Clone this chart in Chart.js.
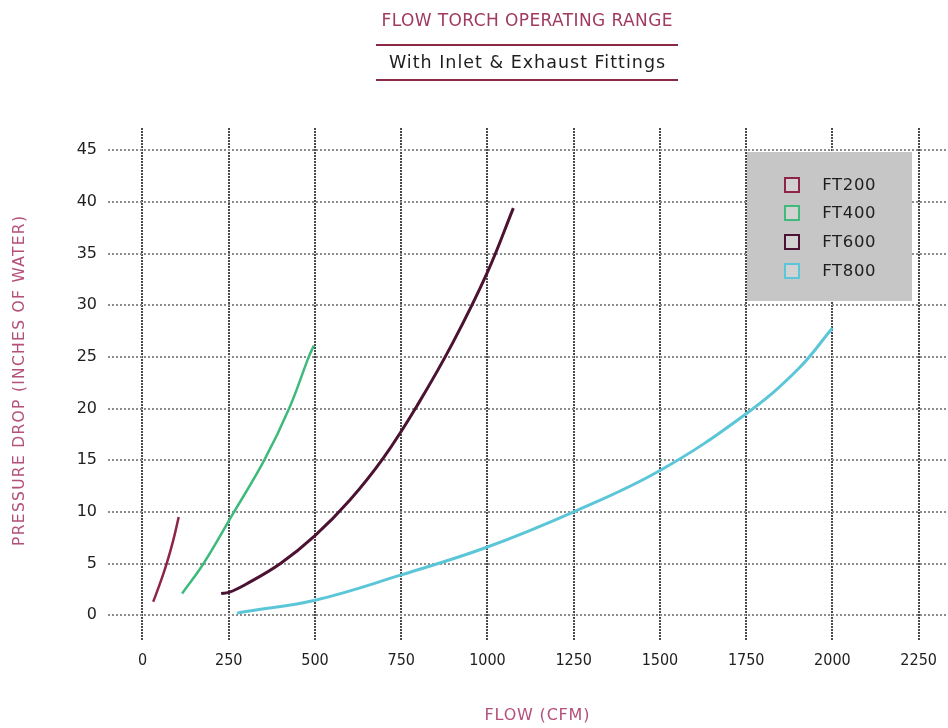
<!DOCTYPE html>
<html>
<head>
<meta charset="utf-8">
<title>Flow Torch Operating Range</title>
<script src="https://cdn.jsdelivr.net/npm/chart.js@4/dist/chart.umd.min.js"></script>
<style>
  html, body { margin: 0; padding: 0; background: #fff; }
  #wrap { width: 948px; height: 728px; }
</style>
</head>
<body>
<div id="wrap"><canvas id="chart" width="948" height="728"></canvas></div>
<script>
// values (flow in CFM, drop in inches of water)
const seriesNames = ['FT200', 'FT400', 'FT600', 'FT800'];
const seriesColors = ['#8e2446', '#3dba7c', '#4b1232', '#5cc6d9'];

const ft200Flow = [31, 50, 70, 88, 105];
const ft200Drop = [1.3, 3.0, 5.0, 7.1, 9.5];

const ft400Flow = [115, 177, 262, 353, 425, 482, 497];
const ft400Drop = [2.1, 5.0, 9.8, 15.0, 20.0, 25.0, 26.1];

const ft600Flow = [228, 250, 300, 400, 500, 600, 700, 800, 900, 1000, 1075];
const ft600Drop = [2.1, 2.2, 3.0, 5.0, 7.7, 11.1, 15.3, 20.5, 26.4, 33.2, 39.4];

const ft800Flow = [274, 300, 500, 750, 1000, 1250, 1500, 1750, 1900, 2000];
const ft800Drop = [0.2, 0.35, 1.45, 3.9, 6.6, 10.0, 14.0, 19.5, 23.8, 27.8];

const xTicks = [0, 250, 500, 750, 1000, 1250, 1500, 1750, 2000, 2250];
const yTicks = [0, 5, 10, 15, 20, 25, 30, 35, 40, 45];

const titleText = 'FLOW TORCH OPERATING RANGE';
const subtitleText = 'With Inlet & Exhaust Fittings';
const xTitleText = 'FLOW (CFM)';
const yTitleText = 'PRESSURE DROP (INCHES OF WATER)';

function toPoints(xs, ys) {
  return xs.map((x, i) => ({ x: x, y: ys[i] }));
}

const allFlows = [ft200Flow, ft400Flow, ft600Flow, ft800Flow];
const allDrops = [ft200Drop, ft400Drop, ft600Drop, ft800Drop];
const widths = [2.5, 2.5, 3, 3];

const datasets = seriesNames.map((name, i) => ({
  label: name,
  data: toPoints(allFlows[i], allDrops[i]),
  borderColor: seriesColors[i],
  backgroundColor: seriesColors[i],
  borderWidth: widths[i],
  showLine: true,
  fill: false,
  pointRadius: 0,
  tension: 0.4
}));

// draws text with some extra spacing (the original font runs wide)
function spacedText(ctx, text, x, y, spacing) {
  if ('letterSpacing' in ctx) {
    ctx.letterSpacing = spacing + 'px';
    ctx.fillText(text, x + spacing / 2, y);
    ctx.letterSpacing = '0px';
  } else {
    ctx.fillText(text, x, y);
  }
}

// header text, rules, axis titles and the grey legend box
const decorPlugin = {
  id: 'decor',
  afterDatasetsDraw(chart) {
    const ctx = chart.ctx;
    ctx.save();

    // legend box
    ctx.fillStyle = '#c6c6c6';
    ctx.fillRect(747, 152, 165, 149);
    const rows = [185, 213, 242, 271];
    chart.data.datasets.forEach((ds, i) => {
      const cy = rows[i];
      ctx.fillStyle = '#d2d2d2';
      ctx.fillRect(785, cy - 7, 14, 14);
      ctx.strokeStyle = ds.borderColor;
      ctx.lineWidth = 2;
      ctx.strokeRect(785, cy - 7, 14, 14);
      ctx.fillStyle = '#1e1e1e';
      ctx.font = '16.5px "DejaVu Sans"';
      ctx.textAlign = 'left';
      ctx.textBaseline = 'middle';
      spacedText(ctx, ds.label, 822, cy + 1, 0.6);
    });

    // title block
    const cx = 527;
    ctx.textAlign = 'center';
    ctx.textBaseline = 'middle';
    ctx.fillStyle = '#a03a60';
    ctx.font = '17px "DejaVu Sans"';
    spacedText(ctx, titleText, cx, 22, 0.4);
    ctx.fillStyle = '#1e1e1e';
    ctx.font = '17.5px "DejaVu Sans"';
    spacedText(ctx, subtitleText, cx, 63, 1);

    ctx.strokeStyle = '#8b2a44';
    ctx.lineWidth = 2;
    ctx.beginPath();
    ctx.moveTo(376, 45); ctx.lineTo(678, 45);
    ctx.moveTo(376, 80); ctx.lineTo(678, 80);
    ctx.stroke();

    // axis titles
    ctx.fillStyle = '#b4507a';
    ctx.font = '16px "DejaVu Sans"';
    spacedText(ctx, xTitleText, 537, 716, 0.8);

    ctx.translate(20, 381);
    ctx.rotate(-Math.PI / 2);
    ctx.font = '15.5px "DejaVu Sans"';
    spacedText(ctx, yTitleText, 0, 0, 1.3);
    ctx.restore();
  }
};

new Chart(document.getElementById('chart'), {
  type: 'scatter',
  data: { datasets: datasets },
  plugins: [decorPlugin],
  options: {
    responsive: false,
    animation: false,
    devicePixelRatio: 1,
    layout: { padding: { top: 128, left: 0, right: 0, bottom: 0 } },
    plugins: {
      legend: { display: false },
      tooltip: { enabled: false }
    },
    scales: {
      x: {
        type: 'linear',
        min: -100,
        max: 2335,
        afterBuildTicks: s => { s.ticks = xTicks.map(v => ({ value: v })); },
        afterFit: s => { s.height = 88; },
        grid: { color: '#4a4a4a', lineWidth: 2, drawTicks: false },
        border: { display: false, dash: [2, 1] },
        ticks: {
          padding: 11,
          color: '#1e1e1e',
          maxRotation: 0,
          autoSkip: false,
          callback: v => String(v),
          font: { family: 'DejaVu Sans Condensed', size: 16 }
        }
      },
      y: {
        type: 'linear',
        min: -2.4,
        max: 47.15,
        afterBuildTicks: s => { s.ticks = yTicks.map(v => ({ value: v })); },
        afterFit: s => { s.width = 108; },
        grid: { color: '#8c8c8c', lineWidth: 2, drawTicks: false },
        border: { display: false, dash: [2, 2] },
        ticks: {
          padding: 11,
          color: '#1e1e1e',
          autoSkip: false,
          callback: v => String(v),
          font: { family: 'DejaVu Sans', size: 16 }
        }
      }
    }
  }
});
</script>
</body>
</html>
